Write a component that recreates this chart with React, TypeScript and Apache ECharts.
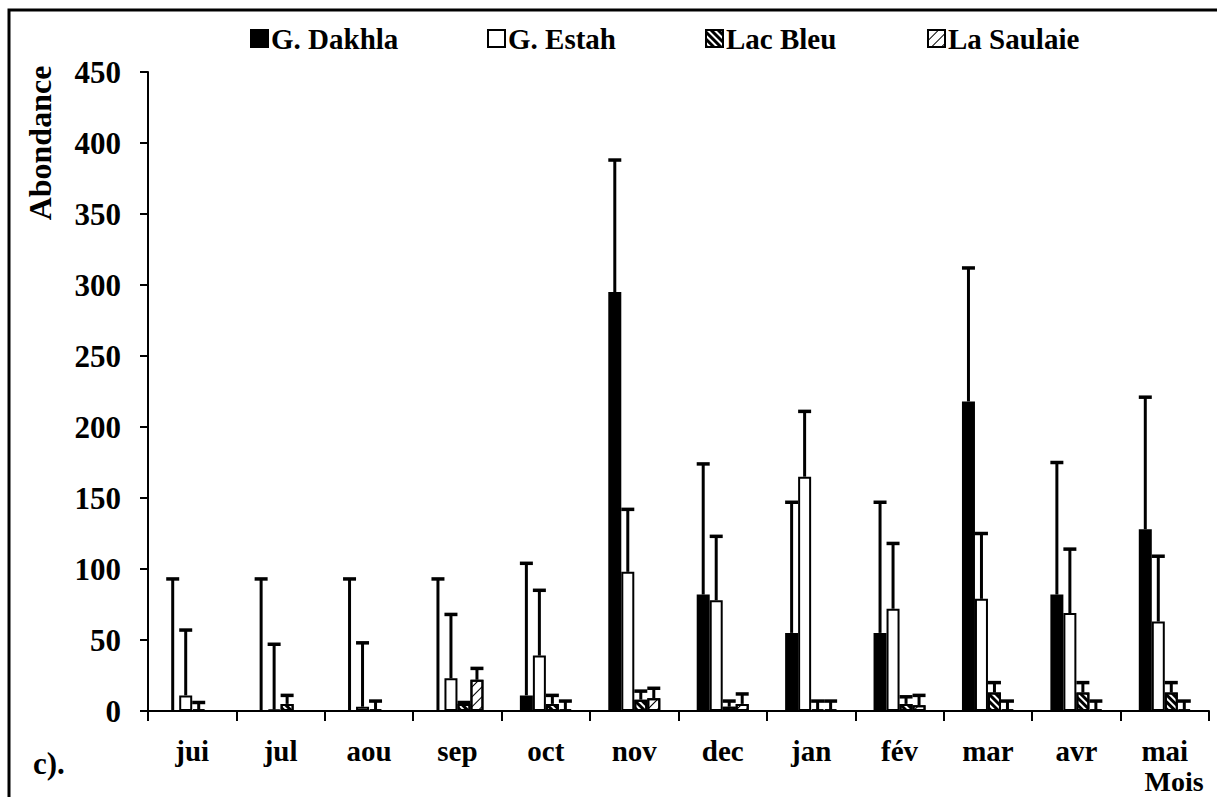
import React, { useEffect, useRef } from "react";
import * as echarts from "echarts";

const months = ["jui", "jul", "aou", "sep", "oct", "nov", "dec", "jan", "fév", "mar", "avr", "mai"];
const seriesNames = ["G. Dakhla", "G. Estah", "Lac Bleu", "La Saulaie"];

const dakhla = [0, 0, 0, 0, 11, 295, 82, 55, 55, 218, 82, 128];
const dakhlaUpper = [93, 93, 93, 93, 104, 388, 174, 147, 147, 312, 175, 221];
const estah = [11, 1, 3, 23, 39, 98, 78, 165, 72, 79, 69, 63];
const estahUpper = [57, 47, 48, 68, 85, 142, 123, 211, 118, 125, 114, 109];
const lacBleu = [1, 5, 1, 5, 5, 8, 3, 1, 5, 13, 13, 13];
const lacBleuUpper = [6, 11, 7, 6, 11, 14, 7, 7, 10, 20, 20, 20];
const saulaie = [0, 0, 0, 22, 1, 9, 5, 1, 4, 1, 1, 1];
const saulaieUpper = [0, 0, 0, 30, 7, 16, 12, 7, 11, 7, 7, 7];

const yTicks = { min: 0, max: 450, interval: 50 };

const FONT = "'Liberation Serif', 'Times New Roman', serif";

export default function App() {
  const ref = useRef<HTMLDivElement>(null);

  useEffect(() => {
    if (!ref.current) return;
    const chart = echarts.init(ref.current, undefined, { renderer: "svg" });

    const values = [dakhla, estah, lacBleu, saulaie];
    const uppers = [dakhlaUpper, estahUpper, lacBleuUpper, saulaieUpper];
    const BAR_W = 13;

    const styles: any[] = [
      { color: "#000", borderColor: "#000", borderWidth: 2 },
      { color: "#fff", borderColor: "#000", borderWidth: 2 },
      {
        color: "#fff",
        borderColor: "#000",
        borderWidth: 2,
        decal: {
          symbol: "rect",
          symbolSize: 1,
          color: "#000",
          backgroundColor: "#fff",
          dashArrayX: [1, 0],
          dashArrayY: [3, 2],
          rotation: Math.PI / 4,
        },
      },
      {
        color: "#fff",
        borderColor: "#000",
        borderWidth: 2,
        decal: {
          symbol: "rect",
          symbolSize: 1,
          color: "#000",
          backgroundColor: "#fff",
          dashArrayX: [1, 0],
          dashArrayY: [1, 6],
          rotation: -Math.PI / 4,
        },
      },
    ];

    const barSeries = seriesNames.map((name, i) => ({
      name,
      type: "bar",
      data: values[i],
      barWidth: BAR_W,
      barGap: "0%",
      itemStyle: styles[i],
      z: 2,
    }));

    const errData: any[] = [];
    values.forEach((vals, si) => {
      vals.forEach((v, ci) => {
        if (uppers[si][ci] > v) errData.push([ci, v, uppers[si][ci], si]);
      });
    });

    const errSeries = {
      type: "custom",
      name: "err",
      data: errData,
      encode: { x: 0, y: [1, 2] },
      z: 3,
      silent: true,
      renderItem: (params: any, api: any) => {
        const ci = api.value(0);
        const lo = api.coord([ci, api.value(1)]);
        const hi = api.coord([ci, api.value(2)]);
        const si = api.value(3);
        const x = lo[0] + (si - 1.5) * BAR_W;
        const cap = 6.5;
        return {
          type: "group",
          children: [
            {
              type: "line",
              shape: { x1: x, y1: lo[1], x2: x, y2: hi[1] },
              style: { stroke: "#000", lineWidth: 3 },
            },
            {
              type: "line",
              shape: { x1: x - cap, y1: hi[1], x2: x + cap, y2: hi[1] },
              style: { stroke: "#000", lineWidth: 3.5 },
            },
          ],
        };
      },
    };

    const legendLefts = [245, 482, 700, 922];
    const legends = seriesNames.map((n, i) => ({
      data: [n],
      left: legendLefts[i],
      top: 19,
      itemWidth: 17,
      itemHeight: 17,
      itemGap: 0,
      icon: "rect",
      textStyle: { fontFamily: FONT, fontWeight: "bold", fontSize: 29, color: "#000", padding: [0, 0, 0, -2] },
      selectedMode: false,
    }));

    chart.setOption({
      animation: false,
      backgroundColor: "#fff",
      textStyle: { fontFamily: FONT },
      legend: legends,
      grid: { left: 148, right: 8, top: 72, bottom: 86, containLabel: false },
      xAxis: {
        type: "category",
        data: months,
        axisLine: { lineStyle: { color: "#000", width: 2 } },
        axisTick: { show: true, length: 10, lineStyle: { color: "#000", width: 2 } },
        axisLabel: { color: "#000", fontFamily: FONT, fontWeight: "bold", fontSize: 29, margin: 25 },
      },
      yAxis: {
        type: "value",
        min: yTicks.min,
        max: yTicks.max,
        interval: yTicks.interval,
        splitLine: { show: false },
        axisLine: { show: true, lineStyle: { color: "#000", width: 2 } },
        axisTick: { show: true, length: 8, lineStyle: { color: "#000", width: 2 } },
        axisLabel: { color: "#000", fontFamily: FONT, fontWeight: "bold", fontSize: 31, margin: 27 },
      },
      graphic: [
        {
          type: "rect",
          shape: { x: 9, y: 10, width: 1240, height: 820 },
          style: { fill: "none", stroke: "#000", lineWidth: 3 },
          silent: true,
        },
        {
          type: "text",
          x: 40,
          y: 143,
          rotation: Math.PI / 2,
          style: {
            text: "Abondance",
            fontFamily: FONT,
            fontWeight: "bold",
            fontSize: 32,
            fill: "#000",
            align: "center",
            verticalAlign: "middle",
          },
        },
        {
          type: "text",
          x: 33,
          y: 763,
          style: {
            text: "c).",
            fontFamily: FONT,
            fontWeight: "bold",
            fontSize: 31,
            fill: "#000",
            align: "left",
            verticalAlign: "middle",
          },
        },
        {
          type: "text",
          x: 1174,
          y: 781,
          style: {
            text: "Mois",
            fontFamily: FONT,
            fontWeight: "bold",
            fontSize: 28,
            fill: "#000",
            align: "center",
            verticalAlign: "middle",
          },
        },
      ],
      series: [...barSeries, errSeries],
    });

    return () => chart.dispose();
  }, []);

  return (
    <div
      ref={ref}
      style={{ position: "absolute", left: 0, top: 0, width: 1217, height: 797, background: "#fff" }}
    />
  );
}
